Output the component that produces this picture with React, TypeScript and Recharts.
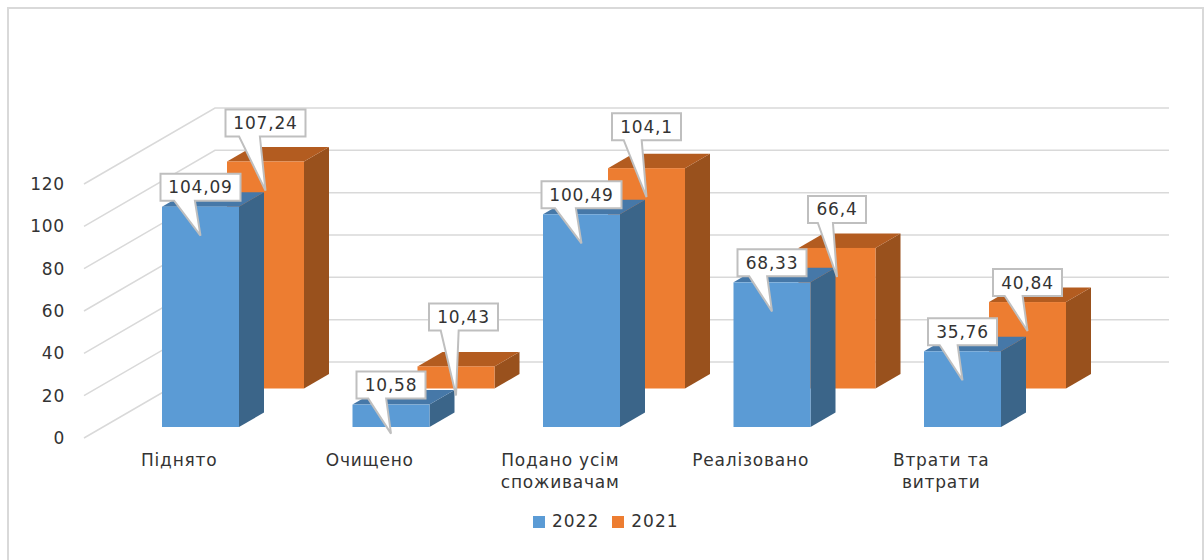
import React from 'react';
import { BarChart, Bar, XAxis, YAxis, CartesianGrid, Legend, LabelList } from 'recharts';

const categories = ['Піднято', 'Очищено', 'Подано усім\nспоживачам', 'Реалізовано', 'Втрати та\nвитрати'];
const values2022 = [104.09, 10.58, 100.49, 68.33, 35.76];
const values2021 = [107.24, 10.43, 104.1, 66.4, 40.84];
const yTicks = [0, 20, 40, 60, 80, 100, 120];

const chartData = categories.map((name, i) => ({ name, v2022: values2022[i], v2021: values2021[i] }));

const FONT = '"DejaVu Sans", sans-serif';
const TEXT = '#333333';

// the 3D look: how far each series sits back from the front plane
const WALL = { dx: 131, dy: -76 };
const BLUE = { dx: 21, dy: -11, front: '#5B9BD5', side: '#3B6589', top: '#4678A8' };
const ORANGE = { dx: 86, dy: -49.5, front: '#ED7D31', side: '#99511D', top: '#B35C20' };
const DEPTH = { dx: 25, dy: -14.5 };

// callouts were moved by hand in the original
const blueLift = [6, 6, 6, 6, 6];
const orangeLift = [25, 36, 28, 25, 6];
const orangeShift = [0, 7.5, 0, 0, 0];

const box3d = (look: typeof BLUE) => (props: any) => {
  const { x, y, width, height } = props;
  const l = x + look.dx;
  const r = l + width;
  const t = y + look.dy;
  const b = t + height;
  const { dx, dy } = DEPTH;
  return (
    <g>
      <polygon points={`${r},${t} ${r + dx},${t + dy} ${r + dx},${b + dy} ${r},${b}`} fill={look.side} />
      <polygon points={`${l},${t} ${l + dx},${t + dy} ${r + dx},${t + dy} ${r},${t}`} fill={look.top} />
      <rect x={l} y={t} width={width} height={height} fill={look.front} />
    </g>
  );
};

const callout = (look: typeof BLUE, lift: number[], shift?: number[]) => (props: any) => {
  const { x, y, width, value, index } = props;
  const text = String(value).replace('.', ',');
  const digits = text.length - 1;
  const w = 25 + 11 * digits;
  const h = 27;
  const tipX = x + look.dx + width / 2;
  const top = y + look.dy;
  const tipY = top + 29;
  const cx = tipX + (shift ? shift[index] : 0);
  const bottom = top - lift[index];
  const left = cx - w / 2;
  const d = `M${left},${bottom - h} H${left + w} V${bottom} H${left + w * 0.43} L${tipX},${tipY} L${left + w * 0.17},${bottom} H${left} Z`;
  return (
    <g>
      <path d={d} fill="#fff" stroke="#BFBFBF" strokeWidth={2} />
      <text x={cx} y={bottom - h / 2} textAnchor="middle" dominantBaseline="central" fontFamily={FONT} fontSize={17} letterSpacing={0.8} fill={TEXT}>
        {text}
      </text>
    </g>
  );
};

const wallLine = (props: any) => {
  const { x1, y1, x2 } = props;
  return (
    <path
      key={props.key ?? y1}
      d={`M${x1},${y1} L${x1 + WALL.dx},${y1 + WALL.dy} L${x2 + WALL.dx + 1.5},${y1 + WALL.dy}`}
      fill="none"
      stroke="#D9D9D9"
      strokeWidth={1.5}
    />
  );
};

const CategoryTick = (props: any) => {
  const { x, y, payload } = props;
  const lines = String(payload.value).split('\n');
  return (
    <text x={x} y={y + 2} textAnchor="middle" fontFamily={FONT} fontSize={17} letterSpacing={0.8} fill={TEXT}>
      {lines.map((line, i) => (
        <tspan key={line} x={x} dy={i === 0 ? 0 : 22}>
          {line}
        </tspan>
      ))}
    </text>
  );
};

export default function App() {
  return (
    <div
      style={{
        position: 'absolute',
        left: 0,
        top: 0,
        width: 1204,
        height: 560,
        background: '#fff',
        overflow: 'hidden',
      }}
    >
      {/* frame has no bottom edge in the picture */}
      <div
        style={{
          position: 'absolute',
          left: 7,
          top: 7,
          width: 1193,
          height: 560,
          borderTop: '2px solid #D9D9D9',
          borderLeft: '2px solid #D9D9D9',
          borderRight: '2px solid #D9D9D9',
        }}
      />
      <BarChart
        width={1204}
        height={560}
        data={chartData}
        margin={{ top: 184, right: 167.5, bottom: 58, left: 0 }}
        barSize={77}
        barGap={-77}
      >
        <CartesianGrid horizontal={wallLine} vertical={false} />
        <XAxis dataKey="name" axisLine={false} tickLine={false} height={40} tick={<CategoryTick />} tickMargin={20} interval={0} />
        <YAxis
          width={84}
          domain={[0, 120]}
          ticks={yTicks}
          axisLine={false}
          tickLine={false}
          tickSize={0}
          tickMargin={19}
          tick={{ fontFamily: FONT, fontSize: 17, letterSpacing: 0.8, fill: TEXT }}
        />
        <Legend
          height={24}
          iconType="square"
          iconSize={12}
          itemSorter={(item: any) => -Number(item.value)}
          wrapperStyle={{ fontFamily: FONT, fontSize: 17, letterSpacing: 1, left: 94, top: 511, bottom: 'auto' }}
          formatter={(value: any) => <span style={{ color: TEXT, marginLeft: 3, marginRight: 3 }}>{value}</span>}
        />
        <Bar dataKey="v2021" name="2021" fill={ORANGE.front} shape={box3d(ORANGE)} isAnimationActive={false}>
          <LabelList dataKey="v2021" content={callout(ORANGE, orangeLift, orangeShift)} />
        </Bar>
        <Bar dataKey="v2022" name="2022" fill={BLUE.front} shape={box3d(BLUE)} isAnimationActive={false}>
          <LabelList dataKey="v2022" content={callout(BLUE, blueLift)} />
        </Bar>
      </BarChart>
    </div>
  );
}
